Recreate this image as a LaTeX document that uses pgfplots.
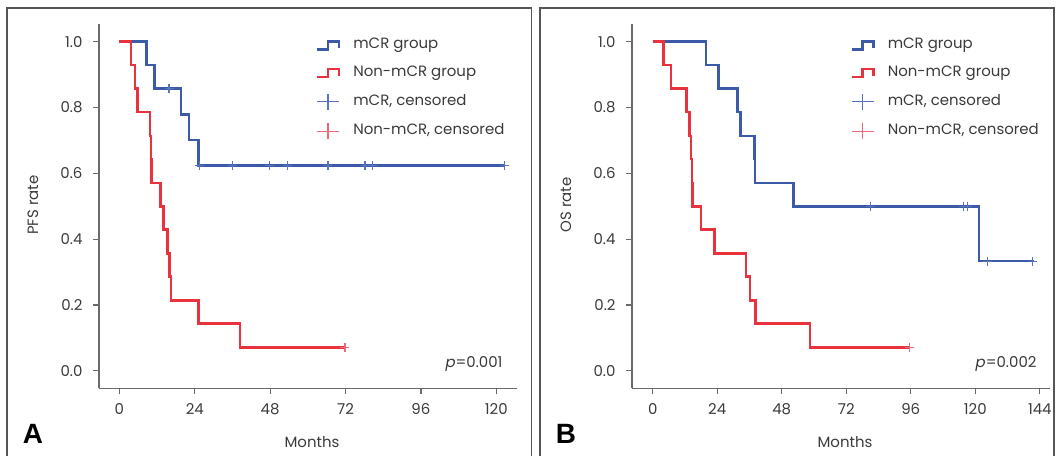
\documentclass[border=0pt]{standalone}
\usepackage{fontspec}
\setmainfont{Poppins}
\newfontfamily\lbs{Liberation Sans}
\usepackage{pgfplots}
\pgfplotsset{compat=1.18}
\definecolor{cblue}{HTML}{3B5BA9}
\definecolor{cred}{HTML}{E8333F}
\definecolor{cblueL}{HTML}{5A74BA}
\definecolor{credL}{HTML}{EC6A78}
\definecolor{txt}{HTML}{3A3A3A}
\definecolor{axc}{HTML}{6A6A6A}
\definecolor{frm}{HTML}{555555}
\pgfplotsset{
 kmstyle/.style={
  scale only axis, width=418bp, height=364.3bp,
  axis x line=bottom, axis y line=left,
  axis line style={axc, line width=1.2bp, -},
  ymin=-0.0535, ymax=1.054,
  ytick={0,0.2,0.4,0.6,0.8,1},
  yticklabel style={xshift=-7bp, /pgf/number format/fixed, /pgf/number format/fixed zerofill, /pgf/number format/precision=1},
  tick align=outside, major tick length=6bp,
  tick style={axc, line width=1.2bp},
  ticklabel style={font=\fontsize{15}{18}\selectfont, text=txt},
  /pgf/number format/assume math mode=true,
  xticklabel style={yshift=-6bp},
  legend cell align=left,
  legend style={draw=none, fill=none, inner sep=0pt, anchor=north west,
    font=\fontsize{15}{18}\selectfont, text=txt, row sep=12.5bp,
    nodes={inner sep=0pt, text height=11bp, text depth=4bp},
    /tikz/every odd column/.append style={column sep=13bp}},
 },
 stepicon/.style={legend image code/.code={
   \draw[##1, line width=2.6bp] (0bp,-4bp) -- (11bp,-4bp) -- (11bp,4bp) -- (22bp,4bp) -- (22bp,-3bp);}},
 plusicon/.style={legend image code/.code={
   \draw[##1, line width=1.3bp] (0bp,0bp) -- (22bp,0bp);
   \draw[##1, line width=1.3bp] (11bp,-8bp) -- (11bp,8bp);}},
 kmline/.style={const plot, line width=2.6bp, mark=none},
 cens/.style={only marks, mark=+, mark size=4.5bp, mark options={line width=1.2bp}},
}
\begin{document}
\begin{tikzpicture}[x=1bp,y=1bp]
% frames
\draw[frm, line width=1.6bp] (7,-3) -- (7,448) -- (531.5,448) -- (531.5,-3);
\draw[frm, line width=1.6bp] (540,-3) -- (540,448) -- (1054,448) -- (1054,-3);

\begin{axis}[kmstyle, at={(99bp,67.7bp)}, anchor=south west,
  xmin=-6.5, xmax=126.6, xtick={0,24,48,72,96,120},
  legend style={at={(0.518,0.9624)}}]
\addplot[kmline, cblue, stepicon] coordinates {(0,1) (8.7,0.929) (11.1,0.857) (19.6,0.779) (22.2,0.701) (25.2,0.623) (122.5,0.623)};
\addlegendentry{mCR group}
\addplot[kmline, cred, stepicon] coordinates {(0,1) (3.7,0.929) (4.9,0.857) (5.7,0.786) (9.7,0.714) (10.0,0.643) (10.2,0.571) (13.0,0.5) (14.1,0.429) (15.3,0.357) (16.0,0.286) (16.4,0.214) (25.2,0.143) (38.4,0.071) (71.8,0.071)};
\addlegendentry{Non-mCR group}
\addplot[cens, cblueL, plusicon] coordinates {(15.8,0.857) (25.6,0.623) (36.0,0.623) (47.9,0.623) (53.6,0.623) (66.4,0.623) (78.2,0.623) (80.6,0.623) (122.5,0.623)};
\addlegendentry{mCR, censored}
\addplot[cens, credL, plusicon] coordinates {(71.8,0.071)};
\addlegendentry{Non-mCR, censored}
\end{axis}

\begin{axis}[kmstyle, at={(632bp,67.7bp)}, anchor=south west,
  xmin=-7.7, xmax=147.8, xtick={0,24,48,72,96,120,144},
  legend style={at={(0.5215,0.9624)}}]
\addplot[kmline, cblue, stepicon] coordinates {(0,1) (19.8,0.929) (24.4,0.857) (31.5,0.786) (32.7,0.714) (37.8,0.643) (38.1,0.571) (52.3,0.5) (121.4,0.333) (142,0.333)};
\addlegendentry{mCR group}
\addplot[kmline, cred, stepicon] coordinates {(0,1) (4.0,0.929) (6.8,0.857) (12.6,0.786) (13.6,0.714) (14.3,0.643) (14.6,0.571) (14.9,0.5) (17.9,0.429) (22.9,0.357) (34.7,0.286) (36.2,0.214) (38.3,0.143) (58.5,0.071) (95.5,0.071)};
\addlegendentry{Non-mCR group}
\addplot[cens, cblueL, plusicon] coordinates {(81.1,0.5) (115.6,0.5) (117.1,0.5) (124.6,0.333) (141.2,0.333)};
\addlegendentry{mCR, censored}
\addplot[cens, credL, plusicon] coordinates {(95.5,0.071)};
\addlegendentry{Non-mCR, censored}
\end{axis}

% labels
\node[rotate=90, text=txt, font=\fontsize{15}{18}\selectfont] at (33,251) {PFS rate};
\node[rotate=90, text=txt, font=\fontsize{15}{18}\selectfont] at (566,251) {OS rate};
\node[text=txt, font=\fontsize{15}{18}\selectfont] at (312,14) {Months};
\node[text=txt, font=\fontsize{15}{18}\selectfont] at (845,14) {Months};
\node[anchor=east, text=txt, font=\fontsize{15}{18}\selectfont] at (506,92) {\textit{p}=0.001};
\node[anchor=east, text=txt, font=\fontsize{15}{18}\selectfont] at (1040,92) {\textit{p}=0.002};
\node[text=black, font=\fontsize{28}{30}\selectfont\lbs\bfseries] at (33,22) {A};
\node[text=black, font=\fontsize{28}{30}\selectfont\lbs\bfseries] at (566,22) {B};
\pgfresetboundingbox
\useasboundingbox (0,0) rectangle (1059,456);
\end{tikzpicture}
\end{document}
